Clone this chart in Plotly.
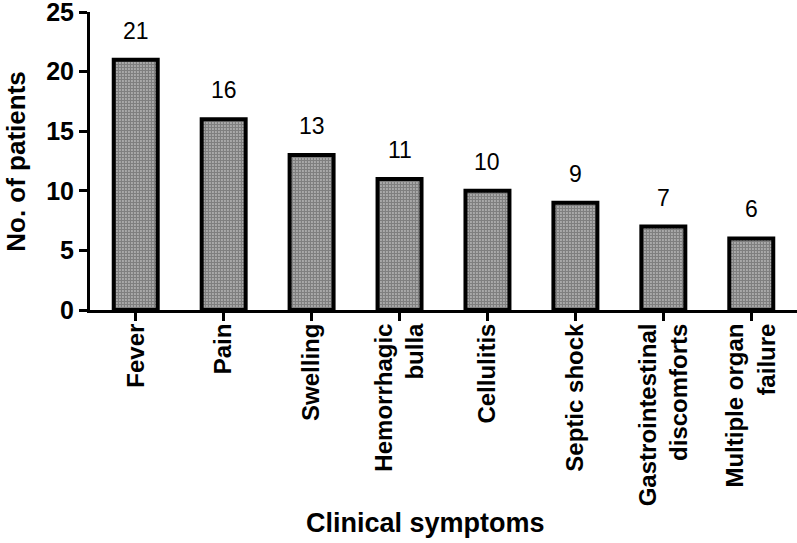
import plotly.graph_objects as go

categories = ["Fever", "Pain", "Swelling", "Hemorrhagic<br>bulla", "Cellulitis",
              "Septic shock", "Gastrointestinal<br>discomforts", "Multiple organ<br>failure"]
values = [21, 16, 13, 11, 10, 9, 7, 6]
y_ticks = [0, 5, 10, 15, 20, 25]

FONT = "Liberation Sans, Arial, sans-serif"

fig = go.Figure()
fig.add_trace(go.Bar(
    x=categories, y=values, width=0.5,
    marker=dict(color="white", line=dict(color="black", width=4),
                pattern=dict(shape=".", fgcolor="black", bgcolor="white", size=3, solidity=0.8)),
))

for c, v in zip(categories, values):
    fig.add_annotation(x=c, y=v, text=str(v), showarrow=False, yshift=29, yanchor="middle",
                       font=dict(family=FONT, size=23, color="black"))

fig.add_annotation(x=0.475, y=-0.715, xref="paper", yref="paper", text="<b>Clinical symptoms</b>",
                   showarrow=False, yanchor="middle", xanchor="center",
                   font=dict(family=FONT, size=27, color="black"))
fig.add_annotation(x=-0.105, y=0.5, xref="paper", yref="paper", text="<b>No. of patients</b>",
                   showarrow=False, textangle=-90, xanchor="center", yanchor="middle",
                   font=dict(family=FONT, size=26, color="black"))

fig.update_layout(
    width=797, height=543, plot_bgcolor="white", paper_bgcolor="white",
    margin=dict(l=90, r=0, t=12, b=233), showlegend=False, bargap=0.5,
    font=dict(family=FONT, color="black"),
)
fig.update_xaxes(range=[-0.52, 7.52], showline=True, linecolor="black", linewidth=3,
                 ticks="outside", ticklen=8, tickwidth=3, tickcolor="black", tickangle=-90,
                 ticklabelstandoff=-7, automargin=False,
                 tickfont=dict(family=FONT, size=24, color="black", weight="bold"), showgrid=False)
fig.update_yaxes(range=[0, 25], tickvals=y_ticks, showline=True, linecolor="black", linewidth=3,
                 ticks="outside", ticklen=8, tickwidth=3, tickcolor="black",
                 automargin=False, ticklabeloverflow="allow",
                 tickfont=dict(family=FONT, size=25, color="black", weight="bold"), showgrid=False,
                 zeroline=False)

fig.write_html("out.html", config={"displayModeBar": False},
               post_script="document.body.style.margin='0';document.body.style.padding='0';")
